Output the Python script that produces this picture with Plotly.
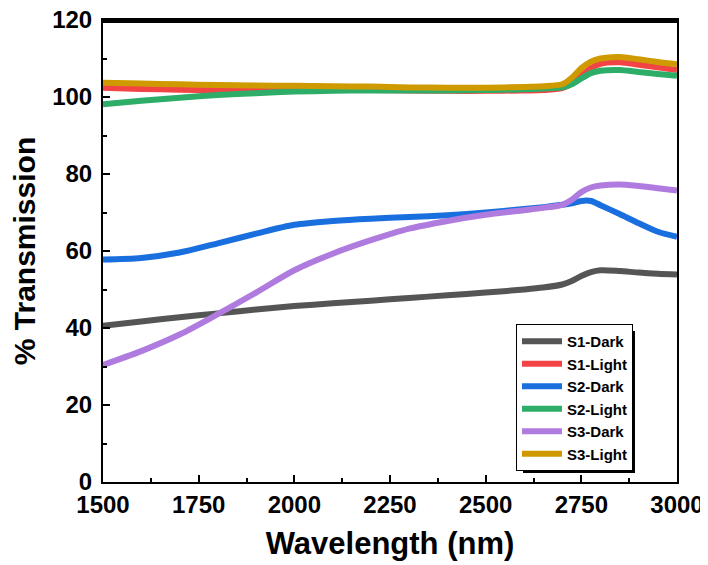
import plotly.graph_objects as go

wavelength = [1500, 1600, 1700, 1800, 1900, 2000, 2100, 2200, 2300, 2400, 2500,
              2600, 2650, 2700, 2725, 2750, 2775, 2800, 2850, 2900, 2950, 3000]

s1_dark = [40.6, 41.7, 42.8, 43.8, 44.8, 45.7, 46.4, 47.1, 47.8, 48.5, 49.2,
           50.0, 50.5, 51.3, 52.2, 53.5, 54.5, 55.0, 54.8, 54.4, 54.1, 53.9]
s1_light = [102.4, 102.1, 101.9, 101.8, 101.8, 101.8, 101.8, 101.8, 101.7, 101.6, 101.6,
            101.7, 101.8, 102.3, 103.5, 105.5, 107.5, 108.6, 109.0, 108.4, 107.7, 107.0]
s2_dark = [57.8, 58.2, 59.6, 62.0, 64.5, 66.8, 67.8, 68.4, 68.8, 69.3, 70.0,
           70.9, 71.4, 72.0, 72.4, 73.0, 73.0, 71.9, 69.6, 67.2, 65.0, 63.7]
s2_light = [98.1, 99.0, 99.8, 100.5, 101.0, 101.4, 101.6, 101.7, 101.7, 101.7, 101.8,
            102.0, 102.2, 102.5, 103.3, 104.8, 106.2, 106.8, 107.0, 106.5, 106.0, 105.5]
s3_dark = [30.4, 34.0, 38.3, 43.6, 49.2, 55.0, 59.3, 62.8, 65.8, 67.8, 69.4,
           70.6, 71.2, 72.0, 73.3, 75.3, 76.5, 77.0, 77.3, 76.9, 76.3, 75.7]
s3_light = [103.7, 103.5, 103.3, 103.1, 103.0, 102.9, 102.8, 102.7, 102.5, 102.4, 102.4,
            102.6, 102.8, 103.3, 105.0, 107.5, 109.2, 110.0, 110.4, 109.8, 109.1, 108.5]

series_names = ["S1-Dark", "S1-Light", "S2-Dark", "S2-Light", "S3-Dark", "S3-Light"]
series_values = [s1_dark, s1_light, s2_dark, s2_light, s3_dark, s3_light]
series_colors = ["#555555", "#F24444", "#1A6FDF", "#2EAD69", "#B07BDF", "#CF9A00"]

x_ticks = [1500, 1750, 2000, 2250, 2500, 2750, 3000]
y_ticks = [0, 20, 40, 60, 80, 100, 120]

FONT = "Liberation Sans, Arial, sans-serif"

fig = go.Figure()
for name, vals, col in zip(series_names, series_values, series_colors):
    fig.add_trace(go.Scatter(
        x=wavelength, y=vals, name=name, mode="lines",
        line=dict(color=col, width=6, shape="spline", smoothing=0.8),
    ))

axis_common = dict(
    showline=True, linecolor="black", linewidth=2, mirror=True,
    ticks="inside", ticklen=7, tickwidth=2, tickcolor="black",
    showgrid=False, zeroline=False, automargin=False,
    ticklabeloverflow="allow",
    tickfont=dict(family=FONT, size=24, color="black", weight="bold"),
)

fig.update_xaxes(
    range=[1500, 3000], tickvals=x_ticks, ticktext=[str(v) for v in x_ticks],
    minor=dict(ticks="inside", ticklen=4, tickwidth=2, tickcolor="black", dtick=125, tick0=1500),
    title=dict(text="Wavelength (nm)", font=dict(family=FONT, size=31, color="black", weight="bold"),
               standoff=16),
    ticklabelstandoff=0,
    **axis_common,
)
fig.update_yaxes(
    range=[0, 120], tickvals=y_ticks, ticktext=[str(v) for v in y_ticks],
    minor=dict(ticks="inside", ticklen=4, tickwidth=2, tickcolor="black", dtick=10, tick0=0),
    title=dict(text="% Transmission", font=dict(family=FONT, size=30, color="black", weight="bold"),
               standoff=8),
    ticklabelstandoff=4,
    **axis_common,
)

# legend shadow (offset box behind the legend)
fig.add_shape(type="rect", xref="paper", yref="paper",
              x0=0.7317, x1=0.9268, y0=0.0195, y1=0.3268,
              fillcolor="black", line=dict(width=0), layer="above")

# top frame band
fig.add_shape(type="rect", xref="paper", yref="paper", x0=0, x1=1, y0=0.9935, y1=1.0,
              fillcolor="black", line=dict(width=0), layer="above")

fig.update_layout(
    width=708, height=565,
    margin=dict(l=95, r=39, t=12, b=91),
    plot_bgcolor="white", paper_bgcolor="white",
    showlegend=True,
    legend=dict(
        x=0.7195, y=0.342, xanchor="left", yanchor="top",
        bgcolor="white", bordercolor="black", borderwidth=1,
        font=dict(family=FONT, size=15, color="black", weight="bold"),
        itemwidth=40, tracegroupgap=0,
    ),
)

fig.write_html("out.html", config={"staticPlot": True})
